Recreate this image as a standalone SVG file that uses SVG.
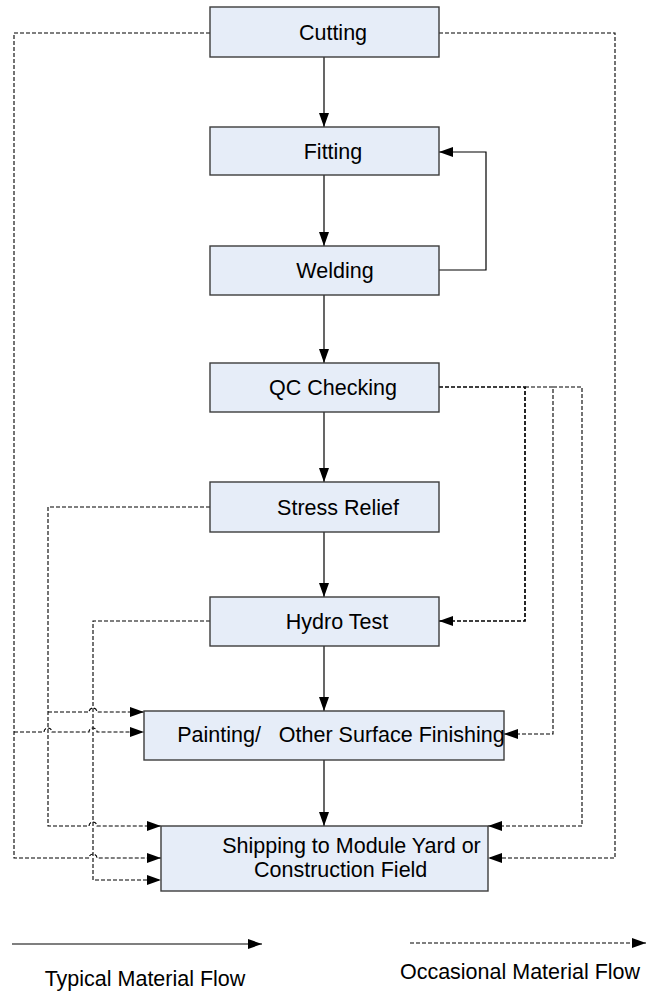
<svg xmlns="http://www.w3.org/2000/svg" width="646" height="993" viewBox="0 0 646 993">
<style>
.box{fill:#e6edf8;stroke:#3c3c3c;stroke-width:1.4}
.t{font-family:"Liberation Sans",Arial,sans-serif;font-size:21.5px;fill:#000;text-anchor:middle}
.s{fill:none;stroke:#000;stroke-width:1.2}
.d{fill:none;stroke:#000;stroke-width:1.1;stroke-dasharray:4,2}
</style>
<defs>
<marker id="ah" markerUnits="userSpaceOnUse" markerWidth="14" markerHeight="10" refX="14" refY="5" orient="auto">
<path d="M0,0 L14,5 L0,10 z" fill="#000"/>
</marker>
</defs>
<rect width="646" height="993" fill="#fff"/>
<g id="connectors">
<path class="s" d="M324,57 V127" marker-end="url(#ah)"/>
<path class="s" d="M324,175 V246" marker-end="url(#ah)"/>
<path class="s" d="M324,295 V363" marker-end="url(#ah)"/>
<path class="s" d="M324,412 V482" marker-end="url(#ah)"/>
<path class="s" d="M324,532 V597" marker-end="url(#ah)"/>
<path class="s" d="M324,646 V711" marker-end="url(#ah)"/>
<path class="s" d="M324,760 V826" marker-end="url(#ah)"/>
<path class="s" d="M439,270 H486 V152 H439" marker-end="url(#ah)"/>
<path class="d" d="M210,33 H14 V858 H89 a4,4 0 0 1 8,0 H161" marker-end="url(#ah)"/>
<path class="d" d="M14,732 H44 a4,4 0 0 1 8,0 H89 a4,4 0 0 1 8,0 H144" marker-end="url(#ah)"/>
<path class="d" d="M439,33 H615 V858 H488" marker-end="url(#ah)"/>
<path class="d" d="M210,507 H48 V826 H89 a4,4 0 0 1 8,0 H161" marker-end="url(#ah)"/>
<path class="d" d="M48,712 H89 a4,4 0 0 1 8,0 H144" marker-end="url(#ah)"/>
<path class="d" d="M210,621 H93 V880 H161" marker-end="url(#ah)"/>
<path class="d" style="stroke-width:1.7" d="M439,387 H525 V621 H439" marker-end="url(#ah)"/>
<path class="d" d="M525,387 H553 V734 H504" marker-end="url(#ah)"/>
<path class="d" d="M553,387 H582 V826 H488" marker-end="url(#ah)"/>
</g>
<g id="cutting"><rect class="box" x="210" y="7" width="229" height="50"/><text class="t" x="333" y="40">Cutting</text></g>
<g id="fitting"><rect class="box" x="210" y="127" width="229" height="48"/><text class="t" x="333" y="159">Fitting</text></g>
<g id="welding"><rect class="box" x="210" y="246" width="229" height="49"/><text class="t" x="335" y="278">Welding</text></g>
<g id="qc"><rect class="box" x="210" y="363" width="229" height="49"/><text class="t" x="333" y="395">QC Checking</text></g>
<g id="stress"><rect class="box" x="210" y="482" width="229" height="50"/><text class="t" x="338" y="515">Stress Relief</text></g>
<g id="hydro"><rect class="box" x="210" y="597" width="229" height="49"/><text class="t" x="337" y="629">Hydro Test</text></g>
<g id="painting"><rect class="box" x="144" y="711" width="360" height="49"/><text class="t" x="341" y="742" xml:space="preserve">Painting/   Other Surface Finishing</text></g>
<g id="shipping"><rect class="box" x="161" y="826" width="327" height="65"/><text class="t" x="351.5" y="853">Shipping to Module Yard or</text><text class="t" x="340.7" y="877">Construction Field</text></g>
<g id="legend">
<path class="s" d="M12,944 H262" marker-end="url(#ah)"/>
<path class="d" d="M410,943 H646" marker-end="url(#ah)"/>
<text class="t" x="145" y="986">Typical Material Flow</text>
<text class="t" x="520" y="979">Occasional Material Flow</text>
</g>
</svg>
